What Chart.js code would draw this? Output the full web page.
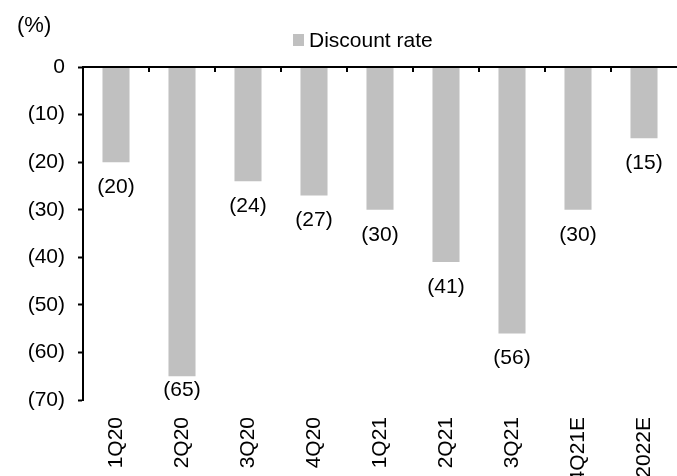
<!DOCTYPE html>
<html>
<head>
<meta charset="utf-8">
<script src="https://cdn.jsdelivr.net/npm/chart.js@4.4.0/dist/chart.umd.min.js"></script>
<style>
  html, body { margin: 0; padding: 0; background: #fff; }
  #wrap { width: 677px; height: 476px; position: relative; }
</style>
</head>
<body>
<div id="wrap"><canvas id="chart"></canvas></div>
<script>
// chart data
const categories = ['1Q20', '2Q20', '3Q20', '4Q20', '1Q21', '2Q21', '3Q21', '4Q21E', '2022E'];
const discountRate = [-20, -65, -24, -27, -30, -41, -56, -30, -15];
const yTicks = [0, -10, -20, -30, -40, -50, -60, -70];
const seriesName = 'Discount rate';
const unitLabel = '(%)';

const FONT = '"Liberation Sans", Arial, sans-serif';
const BAR_GREY = '#C0C0C0';

const fmt = v => (v < 0 ? '(' + Math.abs(v) + ')' : String(v));

// zero line with tick marks, value labels, legend and unit text
const decorations = {
  id: 'decorations',
  afterDatasetsDraw(chart) {
    const { ctx, chartArea, scales } = chart;
    const x = scales.x, y = scales.y;
    const y0 = y.getPixelForValue(0);
    const catW = x.getPixelForValue(1) - x.getPixelForValue(0);

    ctx.save();
    ctx.strokeStyle = '#000';
    ctx.lineWidth = 2;
    ctx.beginPath();
    ctx.moveTo(chartArea.left, y0);
    ctx.lineTo(chartArea.right, y0);
    for (let i = 1; i < categories.length; i++) {
      const bx = Math.round(x.getPixelForValue(i) - catW / 2);
      ctx.moveTo(bx, y0);
      ctx.lineTo(bx, y0 + 5);
    }
    ctx.stroke();

    // value labels under the bars
    ctx.fillStyle = '#000';
    ctx.font = '21px ' + FONT;
    ctx.textAlign = 'center';
    ctx.textBaseline = 'middle';
    const meta = chart.getDatasetMeta(0);
    meta.data.forEach((bar, i) => {
      const ly = Math.min(bar.y + 25, chartArea.bottom - 10);
      ctx.fillText(fmt(discountRate[i]), bar.x, ly);
    });

    // legend
    const lx = chartArea.left + 210;
    ctx.fillStyle = BAR_GREY;
    ctx.fillRect(lx, 34, 11, 12);
    ctx.fillStyle = '#000';
    ctx.font = '21px ' + FONT;
    ctx.textAlign = 'left';
    ctx.fillText(seriesName, lx + 16, 41);

    // unit
    ctx.font = '22px ' + FONT;
    ctx.fillText(unitLabel, 17, 26);
    ctx.restore();
  }
};

new Chart(document.getElementById('chart'), {
  type: 'bar',
  data: {
    labels: categories,
    datasets: [{
      label: seriesName,
      data: discountRate,
      backgroundColor: BAR_GREY,
      borderWidth: 0,
      barPercentage: 0.41,
      categoryPercentage: 1
    }]
  },
  options: {
    responsive: true,
    maintainAspectRatio: false,
    animation: false,
    layout: { padding: { top: 67, right: -4, left: 0, bottom: 0 } },
    plugins: {
      legend: { display: false },
      tooltip: { enabled: false }
    },
    scales: {
      x: {
        position: 'bottom',
        grid: { display: false, drawTicks: false },
        border: { display: false },
        ticks: {
          color: '#000',
          font: { family: FONT, size: 21 },
          minRotation: 90,
          maxRotation: 90,
          padding: 17,
          autoSkip: false
        },
        afterFit(scale) {
          scale.height = 76;
          scale.paddingLeft = 0;
          scale.paddingRight = 0;
        }
      },
      y: {
        min: -70,
        max: 0,
        afterBuildTicks(scale) { scale.ticks = yTicks.map(v => ({ value: v })); },
        grid: { drawOnChartArea: false, tickLength: 5, tickWidth: 2, color: '#000' },
        border: { display: true, color: '#000', width: 2 },
        ticks: {
          color: '#000',
          font: { family: FONT, size: 21 },
          padding: 13,
          callback: v => fmt(v)
        },
        afterFit(scale) {
          scale.width = 83;
          scale.paddingTop = 0;
          scale.paddingBottom = 0;
        }
      }
    }
  },
  plugins: [decorations]
});
</script>
</body>
</html>
